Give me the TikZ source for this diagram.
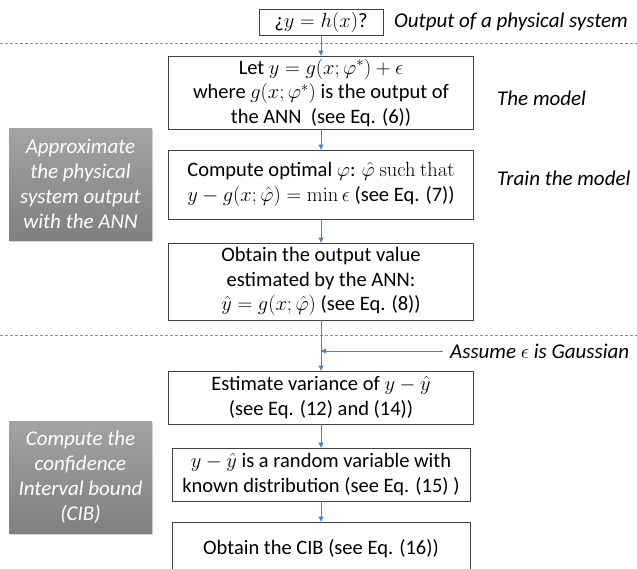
\RequirePackage{fix-cm}
\documentclass[tikz,border=0pt]{standalone}
\usepackage[no-math]{fontspec}
\setmainfont{Carlito}
\usetikzlibrary{shadows,arrows.meta}
\definecolor{lblue}{HTML}{5B9BD5}
\definecolor{ablue}{HTML}{3F87C9}
\begin{document}
\begin{tikzpicture}[x=1pt,y=-1pt,
  box/.style={draw=black!75, line width=0.8pt, align=center, inner sep=0pt,
    font=\fontsize{20.5}{24.5}\selectfont},
  graybox/.style={top color=black!36, bottom color=black!50, align=center, text=white,
    font=\fontsize{21}{25}\selectfont\itshape, inner sep=0pt,
    minimum width=143pt, minimum height=112pt,
    drop shadow={opacity=0.3, shadow xshift=1pt, shadow yshift=-1.5pt}},
  side/.style={anchor=west, inner sep=0pt, font=\fontsize{21}{24}\selectfont\itshape},
  arr/.style={draw=ablue, line width=0.8pt, -{Triangle[length=5pt,width=5pt]}},
  sep/.style={draw=lblue, line width=1pt, dash pattern=on 3pt off 2pt}]
\useasboundingbox (0,0) rectangle (637,568);
\fill[white] (0,0) rectangle (637,568);

% separators
\draw[sep] (0,43) -- (637,43);
\draw[sep] (0,335) -- (637,335);

% top
\node[box, minimum width=124pt, minimum height=26pt] (top) at (321,22) {¿$y = h(x)$?};
\node[side] (outlbl) at (394,22) {Output of a physical system};

% main boxes
\node[box, minimum width=305pt, minimum height=73pt] (b1) at (321,92.5)
  {Let $y = g(x;\varphi^{*}) + \epsilon$\\ where $g(x;\varphi^{*})$ is the output of\\ the ANN\ \ (see Eq. (6))};
\node[box, minimum width=305pt, minimum height=69pt] (b2) at (321,184.5)
  {Compute optimal $\varphi$: $\hat{\varphi}\ \mathrm{such\ that}$\\ $y - g(x;\hat{\varphi}) = \min\epsilon$ (see Eq. (7))};
\node[box, minimum width=305pt, minimum height=77pt] (b3) at (321,281.5)
  {Obtain the output value\\ estimated by the ANN:\\ $\hat{y} = g(x;\hat{\varphi})$ (see Eq. (8))};
\node[box, minimum width=305pt, minimum height=53pt] (b4) at (321,397.5)
  {Estimate variance of $y - \hat{y}$\\ (see Eq. (12) and (14))};
\node[box, minimum width=298pt, minimum height=53pt] (b5) at (321,474.5)
  {$y - \hat{y}$ is a random variable with\\ known distribution (see Eq. (15) )};
\node[box, minimum width=298pt, minimum height=54pt] (b6) at (321,549)
  {Obtain the CIB (see Eq. (16))};

% side labels
\node[side] (model) at (497,98) {The model};
\node[side] (train) at (497,178) {Train the model};
\node[side] (gauss) at (450,351) {Assume $\epsilon$ is Gaussian};

% gray boxes
\node[graybox] (g1) at (80.5,184) {Approximate\\ the physical\\ system output\\ with the ANN};
\node[graybox] (g2) at (80.5,477) {Compute the\\ confidence\\ Interval bound\\ (CIB)};

% arrows
\draw[arr] (top) -- (b1);
\draw[arr] (b1) -- (b2);
\draw[arr] (b2) -- (b3);
\draw[arr] (b3) -- (b4);
\draw[arr] (b4) -- (b5);
\draw[arr] (b5) -- (b6);
\coordinate (gs) at (443,351);
\draw[arr] (gs) -- (gs -| b4.north);
\end{tikzpicture}
\end{document}
